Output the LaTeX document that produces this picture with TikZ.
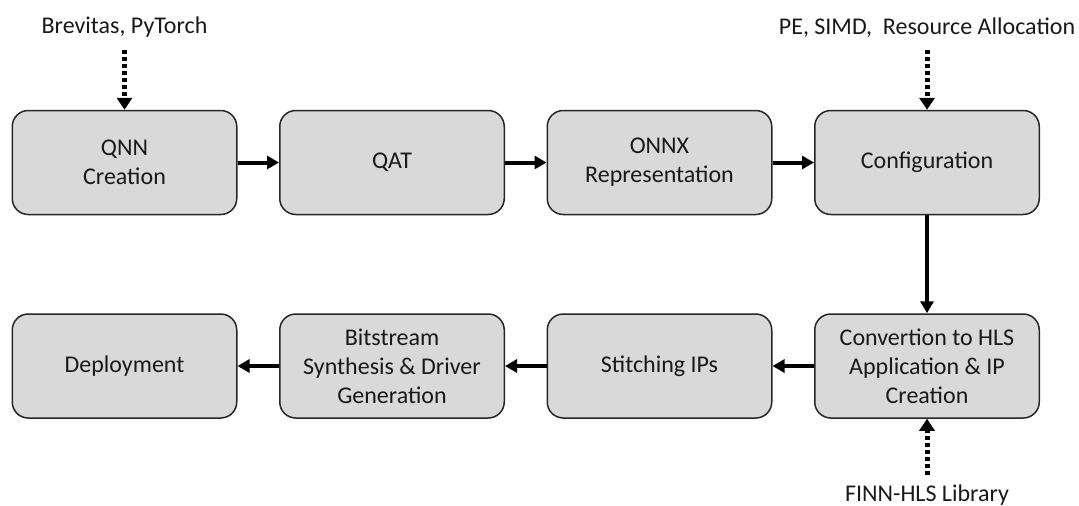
\documentclass[tikz,border=0pt]{standalone}
\usepackage{fontspec}
\setmainfont{Carlito}
\usetikzlibrary{arrows.meta,positioning}

\definecolor{boxfill}{HTML}{D9D9D9}
\definecolor{boxline}{HTML}{262626}

\begin{document}
\begin{tikzpicture}[
    x=1pt,y=1pt,
    node distance=41.5pt,
    font=\fontsize{24}{29}\selectfont,
    box/.style={draw=boxline,fill=boxfill,line width=1.5pt,rounded corners=16pt,
      minimum width=224.5pt,minimum height=104pt,align=center,text=black!90},
    lbl/.style={inner sep=0pt,text=black!90},
    flow/.style={-{Triangle[length=12pt,width=13pt]},line width=4pt},
    dotflow/.style={-{Triangle[length=12pt,width=15pt]},line width=5pt,
      dash pattern=on 4pt off 3pt}
  ]
    \useasboundingbox (0,0) rectangle (1079,-506);
    % top row
    \node[box] (qnn) at (124.5,-162.5) {QNN\\Creation};
    \node[box,right=of qnn] (qat) {QAT};
    \node[box,right=of qat] (onnx) {ONNX\\Representation};
    \node[box,right=of onnx] (config) {Configuration};
    % bottom row, right to left
    \node[box,below=98pt of config] (hls) {Convertion to HLS\\Application \& IP\\Creation};
    \node[box,left=of hls] (stitch) {Stitching IPs};
    \node[box,left=of stitch] (bits) {Bitstream\\Synthesis \& Driver\\Generation};
    \node[box,left=of bits] (deploy) {Deployment};
    % inputs
    \node[lbl,above=72pt of qnn] (brevitas) {Brevitas, PyTorch};
    \node[lbl,above=72pt of config] (pe) {PE, SIMD,~~Resource Allocation};
    \node[lbl,below=66pt of hls] (finn) {FINN-HLS Library};

    \draw[flow] (qnn) -- (qat);
    \draw[flow] (qat) -- (onnx);
    \draw[flow] (onnx) -- (config);
    \draw[flow] (config) -- (hls);
    \draw[flow] (hls) -- (stitch);
    \draw[flow] (stitch) -- (bits);
    \draw[flow] (bits) -- (deploy);
    \draw[dotflow,shorten <=12pt] (brevitas) -- (qnn);
    \draw[dotflow,shorten <=12pt] (pe) -- (config);
    \draw[dotflow,shorten <=10pt] (finn) -- (hls);
  \end{tikzpicture}
\end{document}
